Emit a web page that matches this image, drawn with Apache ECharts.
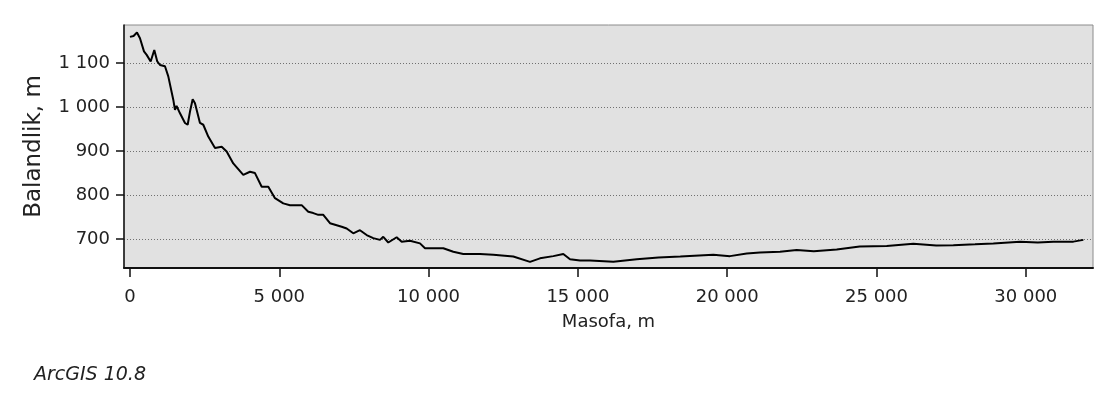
<!DOCTYPE html>
<html>

<head>
    <meta charset="utf-8">
    <title>Profil</title>
    <script src="https://cdn.jsdelivr.net/npm/echarts@6/dist/echarts.min.js"></script>
</head>

<body style="margin:0;background:#fff;">
    <div id="main" style="width: 1113px;height:396px;"></div>
    <script type="text/javascript">
        // masofa (m) va balandlik (m)
        var distances = [0, 120, 234, 335, 469, 559, 693, 814, 914, 1005, 1172, 1283, 1450, 1507, 1560, 1618, 1675,
            1842, 1932, 2010, 2100, 2177, 2344, 2455, 2622, 2847, 3071, 3238, 3459, 3794, 4019, 4186, 4411, 4632,
            4856, 5134, 5358, 5750, 5971, 6139, 6306, 6474, 6698, 7090, 7257, 7478, 7702, 7926, 8147, 8373, 8482,
            8650, 8931, 9099, 9377, 9712, 9880, 10493, 10828, 11162, 11722, 12167, 12837, 13396, 13731, 14177,
            14512, 14736, 15071, 15406, 16187, 16971, 17700, 18429, 19535, 20094, 20653, 21098, 21768, 22327,
            22900, 23667, 24437, 25343, 26233, 27000, 27573, 28300, 28913, 29807, 30400, 30922, 31592, 31927];
        var elevations = [1160, 1162, 1170, 1157, 1127, 1119, 1104, 1130, 1104, 1096, 1093, 1070, 1017, 994, 1003, 1001, 986,
            964, 960, 990, 1018, 1009, 964, 960, 933, 907, 910, 899, 872, 846, 853, 850, 819, 819,
            793, 781, 777, 777, 762, 759, 755, 755, 736, 728, 724, 713, 720, 709, 702, 698, 705,
            692, 704, 694, 696, 690, 679, 679, 671, 666, 666, 664, 660, 648, 656, 661,
            666, 654, 651, 651, 648, 654, 658, 660, 664, 661, 667, 669, 671, 675,
            672, 676, 683, 684, 689, 685, 686, 688, 690, 694, 692, 694, 694, 698];
        var xTicks = [0, 5000, 10000, 15000, 20000, 25000, 30000];
        var yTicks = [700, 800, 900, 1000, 1100];

        var points = distances.map(function (d, i) { return [d, elevations[i]]; });

        function spaced(v) {
            return String(v).replace(/\B(?=(\d{3})+(?!\d))/g, ' ');
        }

        var font = 'DejaVu Sans';
        var myChart = echarts.init(document.getElementById('main'));
        var option = {
            backgroundColor: '#fff',
            animation: false,
            title: {
                text: 'ArcGIS 10.8',
                left: 29,
                top: 361,
                textStyle: { fontFamily: font, fontSize: 19, fontStyle: 'italic', fontWeight: 'normal', color: '#222' }
            },
            grid: {
                left: 124, right: 20, top: 25, bottom: 128,
                show: true, backgroundColor: '#e1e1e1', borderColor: '#8c8c8c', borderWidth: 1
            },
            xAxis: {
                type: 'value',
                min: -200,
                max: 32250,
                name: 'Masofa, m',
                nameLocation: 'middle',
                nameGap: 45,
                nameTextStyle: { fontFamily: font, fontSize: 18, color: '#222' },
                axisLine: { show: true, onZero: false, lineStyle: { color: '#111', width: 2 } },
                axisTick: { show: true, length: 9, customValues: xTicks, lineStyle: { color: '#111', width: 1.5 } },
                axisLabel: {
                    customValues: xTicks, margin: 20, fontFamily: font, fontSize: 18, color: '#222',
                    formatter: spaced
                },
                splitLine: { show: false }
            },
            yAxis: {
                type: 'value',
                min: 634,
                max: 1187,
                splitNumber: 5,
                name: 'Balandlik, m',
                nameLocation: 'middle',
                nameGap: 78,
                nameTextStyle: { fontFamily: font, fontSize: 23, color: '#222' },
                axisLine: { show: true, onZero: false, lineStyle: { color: '#111', width: 1.5 } },
                axisTick: { show: true, length: 8, customValues: yTicks, lineStyle: { color: '#111', width: 1.5 } },
                axisLabel: {
                    customValues: yTicks, margin: 14, fontFamily: font, fontSize: 18, color: '#222',
                    formatter: spaced
                },
                splitLine: { show: true, lineStyle: { color: '#707070', width: 1, type: [1, 2] } }
            },
            series: [{
                type: 'line',
                data: points,
                showSymbol: false,
                lineStyle: { color: '#000', width: 2 }
            }]
        };
        myChart.setOption(option);
    </script>
</body>

</html>
